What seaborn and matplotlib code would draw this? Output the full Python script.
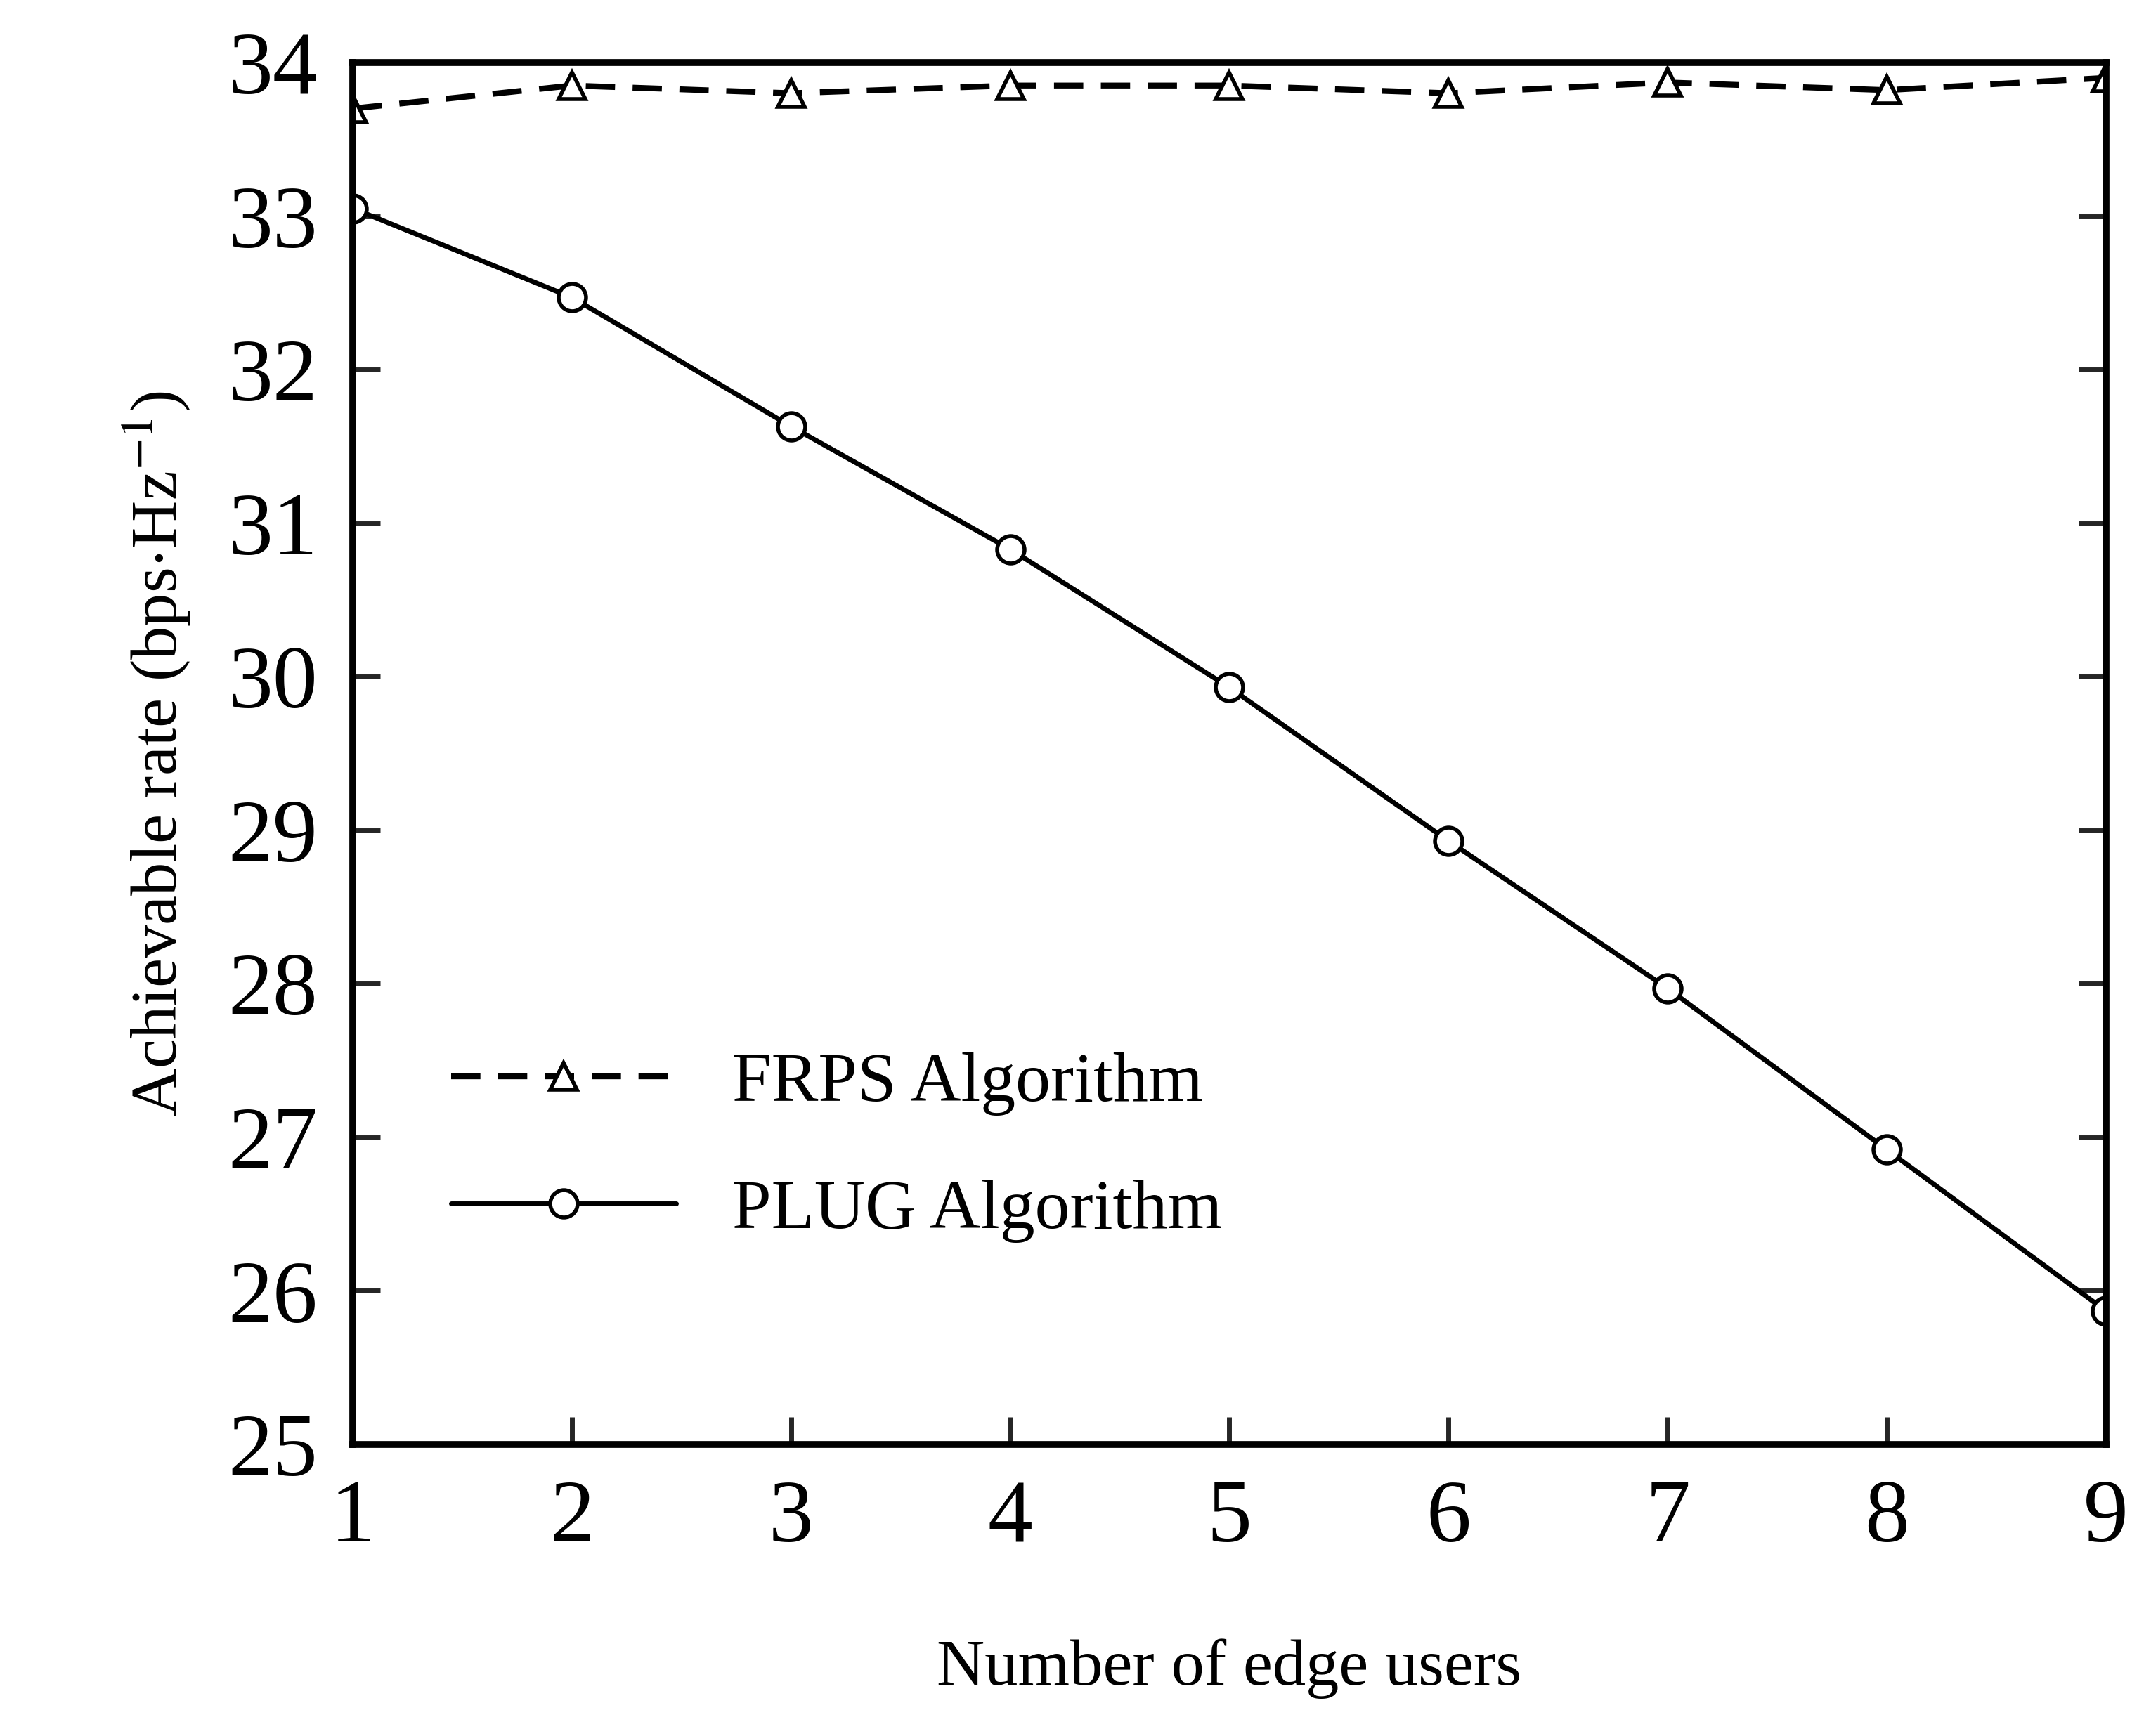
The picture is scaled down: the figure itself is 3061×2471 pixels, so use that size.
import matplotlib
matplotlib.use("Agg")
import matplotlib.pyplot as plt
import seaborn as sns
import pandas as pd

users = [1, 2, 3, 4, 5, 6, 7, 8, 9]
frps = [33.70, 33.85, 33.80, 33.85, 33.85, 33.80, 33.87, 33.82, 33.90]
plug = [33.05, 32.47, 31.63, 30.83, 29.93, 28.93, 27.97, 26.92, 25.87]

sns.set_theme(style="white")
plt.rcParams['font.family'] = ['Liberation Serif', 'DejaVu Serif']
plt.rcParams['mathtext.fontset'] = 'stix'

fig = plt.figure(figsize=(15.305, 12.355), dpi=200)
ax = fig.add_axes([0.164, 0.168, 0.815, 0.796])

df = pd.DataFrame({"x": users, "frps": frps, "plug": plug})
sns.lineplot(data=df, x="x", y="frps", ax=ax, color="black", lw=3,
             linestyle=(0, (5, 3)), marker="^", markersize=14, markerfacecolor="white",
             markeredgecolor="black", markeredgewidth=2, label="FRPS Algorithm")
sns.lineplot(data=df, x="x", y="plug", ax=ax, color="black", lw=2.5,
             marker="o", markersize=14, markerfacecolor="white",
             markeredgecolor="black", markeredgewidth=2, label="PLUG Algorithm")

ax.set_xlim(1, 9)
ax.set_ylim(25, 34)
ax.set_xticks(users)
ax.set_yticks(range(25, 35))
ax.tick_params(direction="in", length=14, width=2.5, labelsize=46, pad=18,
               labelcolor="black", left=True, right=True, bottom=True, top=False)
for s in ax.spines.values():
    s.set_linewidth(3.5)
    s.set_color("black")
ax.set_xlabel("Number of edge users", fontsize=34, labelpad=40, color="black")
ax.set_ylabel(r"Achievable rate (bps$\cdot$Hz$^{-1}$)", fontsize=34, labelpad=18, color="black")
leg = ax.legend(loc="lower left", bbox_to_anchor=(0.02, 0.1), frameon=False,
                fontsize=36, handlelength=3.2, labelspacing=0.9)
for t in leg.get_texts():
    t.set_color("black")
fig.savefig("out.png", dpi=200)
